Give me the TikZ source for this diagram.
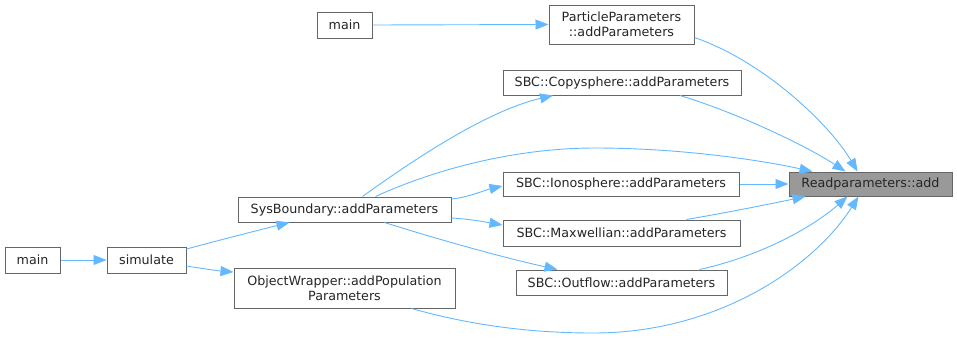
\documentclass[tikz,border=0pt]{standalone}
\usepackage{fontspec}
\setmainfont{DejaVu Sans}
\usetikzlibrary{arrows.meta}
\definecolor{edgeblue}{HTML}{63B8FF}
\definecolor{boxgray}{HTML}{666666}
\definecolor{fillgray}{HTML}{999999}
\begin{document}
\begin{tikzpicture}[x=1pt,y=-1pt,
  fn/.style={draw=boxgray,line width=1pt,fill=white,inner sep=0pt,align=center,
    font=\fontsize{12.7}{15}\selectfont,text=black!85},
  cl/.style={draw=edgeblue,line width=0.9pt,-{Triangle[length=13pt,width=10pt,fill=edgeblue]}}]
\useasboundingbox (0,0) rectangle (957,338);
% nodes
\node[fn,fill=fillgray,minimum width=163pt,minimum height=24pt] (rp) at (870.5,184) {Readparameters::add};
\node[fn,minimum width=55pt,minimum height=26pt] (m1) at (344.5,25) {main};
\node[fn,minimum width=145pt,minimum height=39pt] (pp) at (621.5,24.5) {ParticleParameters\\::addParameters};
\node[fn,minimum width=238pt,minimum height=25pt] (cs) at (622,82.5) {SBC::Copysphere::addParameters};
\node[fn,minimum width=236pt,minimum height=24pt] (io) at (621,184) {SBC::Ionosphere::addParameters};
\node[fn,minimum width=237pt,minimum height=26pt] (mx) at (621.5,233) {SBC::Maxwellian::addParameters};
\node[fn,minimum width=211pt,minimum height=25pt] (of) at (621.5,282.5) {SBC::Outflow::addParameters};
\node[fn,minimum width=213pt,minimum height=25pt] (sb) at (344.5,209.5) {SysBoundary::addParameters};
\node[fn,minimum width=55pt,minimum height=26pt] (m2) at (32.5,260) {main};
\node[fn,minimum width=79pt,minimum height=26pt] (sim) at (146.5,260) {simulate};
\node[fn,minimum width=221pt,minimum height=40pt] (ow) at (344.5,288) {ObjectWrapper::addPopulation\\Parameters};
% edges
\draw[cl] (m1.east) -- (pp.west);
\draw[cl] ([yshift=-13pt]pp.east) .. controls (765,62) and (830,125) .. ([xshift=-13pt]rp.north);
\draw[cl] ([xshift=58pt]cs.south) .. controls (735,112) and (805,145) .. ([xshift=-25pt]rp.north);
\draw[cl] ([xshift=18pt]sb.north) .. controls (420,155) and (490,110) .. ([xshift=-69pt]cs.south);
\draw[cl] ([xshift=31pt]sb.north) .. controls (440,167) and (520,148) .. (595,148) .. controls (680,148) and (760,160) .. ([xshift=-58pt]rp.north);
\draw[cl] ([yshift=10.5pt]sb.east) .. controls (470,197) and (485,190) .. ([yshift=-2pt]io.west);
\draw[cl] ([yshift=-8.5pt]sb.east) .. controls (470,219) and (485,222) .. ([yshift=8pt]mx.west);
\draw[cl] ([xshift=40pt]sb.south) .. controls (440,240) and (505,258) .. ([xshift=-64pt]of.north);
\draw[cl] (io.east) -- (rp.west);
\draw[cl] ([xshift=65pt]mx.north) .. controls (730,212) and (770,204) .. ([xshift=-65pt]rp.south);
\draw[cl] ([xshift=78pt]of.north) .. controls (765,255) and (815,225) .. ([xshift=-23pt]rp.south);
\draw[cl] ([xshift=67pt]ow.south) .. controls (470,325) and (530,333) .. (593,333) .. controls (720,333) and (815,265) .. ([xshift=-12pt]rp.south);
\draw[cl] (m2.east) -- (sim.west);
\draw[cl] ([yshift=11pt]sim.east) .. controls (220,240) and (255,231) .. ([xshift=-55pt]sb.south);
\draw[cl] ([yshift=-6pt]sim.east) .. controls (205,269) and (220,271) .. ([yshift=16pt]ow.west);
\end{tikzpicture}
\end{document}
